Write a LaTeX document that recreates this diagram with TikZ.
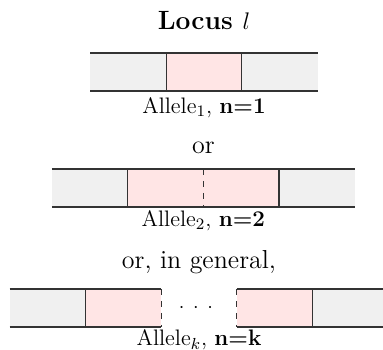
\documentclass[tikz,border=0pt]{standalone}
\usepackage{amsmath,amssymb}
\usepackage{xcolor}
\usepackage{tikz}
\usetikzlibrary{positioning}

\begin{document}
\begin{tikzpicture}[node distance=0pt,
    seg/.style={rectangle, inner sep=0pt, outer sep=0pt, minimum width=1.33cm, minimum height=0.67cm},
    flank/.style={seg, fill=black!6},
    allele/.style={seg, fill=red!10},
    wall/.style={draw=black!80, line width=0.6pt},
    tag/.style={inner sep=0pt, font=\fontsize{11.2}{13}\selectfont},
    head/.style={inner sep=0pt, font=\fontsize{13}{16}\selectfont}]

    \useasboundingbox (0,0) rectangle (6.73,-6.15);

    % a single copy
    \node [allele] (a1) at (3.585,-1.265) {};
    \node [flank, left=0pt of a1] (l1) {};
    \node [flank, right=0pt of a1] (r1) {};
    \draw [wall] (l1.north west) -- (r1.north east);
    \draw [wall] (l1.south west) -- (r1.south east);
    \draw [wall] (a1.north west) -- (a1.south west);
    \draw [wall] (a1.north east) -- (a1.south east);
    \node [head, font=\fontsize{13.2}{16}\selectfont\bfseries, above=11.5pt of a1] (title) {Locus $l$};
    \node [tag, below=3pt of a1] (t1) {Allele$_1$, \textbf{n=1}};

    % two copies
    \node [allele] (a2) at (2.908,-3.304) {};
    \node [allele, right=0pt of a2] (b2) {};
    \node [flank, left=0pt of a2] (l2) {};
    \node [flank, right=0pt of b2] (r2) {};
    \draw [wall] (l2.north west) -- (r2.north east);
    \draw [wall] (l2.south west) -- (r2.south east);
    \draw [wall] (a2.north west) -- (a2.south west);
    \draw [wall, dashed] (a2.north east) -- (a2.south east);
    \draw [wall] (b2.north east) -- (b2.south east);
    \node [head, above=7.5pt of a2.north east] (or1) {or};
    \node [tag, below=1.5pt of a2.south east] (t2) {Allele$_2$, \textbf{n=2}};

    % k copies
    \node [allele] (a3) at (2.166,-5.412) {};
    \node [flank, left=0pt of a3] (l3) {};
    \node [allele, right=1.33cm of a3] (b3) {};
    \node [flank, right=0pt of b3] (r3) {};
    \draw [wall] (l3.north west) -- (a3.north east);
    \draw [wall] (l3.south west) -- (a3.south east);
    \draw [wall] (b3.north west) -- (r3.north east);
    \draw [wall] (b3.south west) -- (r3.south east);
    \draw [wall] (a3.north west) -- (a3.south west);
    \draw [wall, dashed] (a3.north east) -- (a3.south east);
    \draw [wall, dashed] (b3.north west) -- (b3.south west);
    \draw [wall] (b3.north east) -- (b3.south east);
    \path (a3) -- node [anchor=mid, xshift=-1.5pt] (dots) {$\cdotp$\hspace{4.4pt}$\cdotp$\hspace{4.4pt}$\cdotp$} (b3);
    \path (a3.north east) -- coordinate (gtop) (b3.north west);
    \path (a3.south east) -- coordinate (gbot) (b3.south west);
    \node [head, above=7.3pt of gtop] (or2) {or, in general,};
    \node [tag, below=1pt of gbot] (t3) {Allele$_k$, \textbf{n=k}};
\end{tikzpicture}
\end{document}
